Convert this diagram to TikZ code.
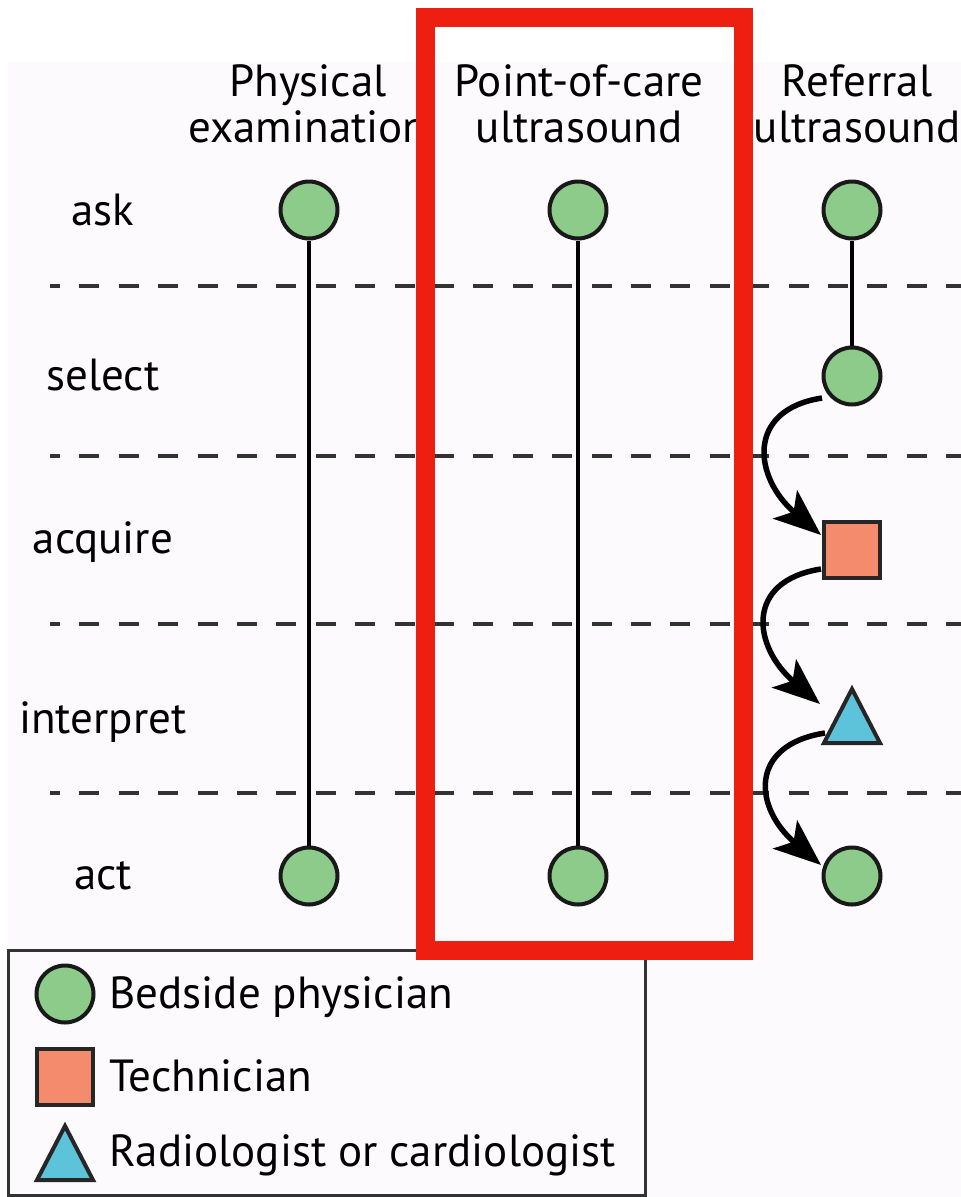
\documentclass[tikz,border=0pt]{standalone}
\usepackage{fontspec}
\setmainfont{PT Sans}
\usetikzlibrary{arrows.meta,calc,shapes.geometric}
\definecolor{bgc}{HTML}{FDFAFD}
\definecolor{grn}{HTML}{8DCB8B}
\definecolor{org}{HTML}{F58B6D}
\definecolor{blu}{HTML}{5CC3DA}
\definecolor{redb}{HTML}{EE1F10}
\definecolor{dgray}{HTML}{333333}
\tikzset{
  flowtip/.tip={Stealth[length=47pt,width=37pt,inset=11pt]}
}
\begin{document}
\begin{tikzpicture}[x=1pt,y=-1pt,
  phys/.style={circle,draw=black!90,line width=4pt,fill=grn,minimum size=57pt,inner sep=0pt},
  tech/.style={rectangle,draw=black!85,line width=4pt,fill=org,minimum size=56pt,inner sep=0pt},
  radi/.style={isosceles triangle,isosceles triangle stretches,shape border rotate=90,draw=black!85,line width=4pt,fill=blu,minimum height=54pt,minimum width=56pt,inner sep=0pt,anchor=lower side},
  rowlab/.style={font=\fontsize{45}{46}\selectfont},
  head/.style={font=\fontsize{45}{46}\selectfont,align=center},
  legtxt/.style={font=\fontsize{45}{46}\selectfont,anchor=west},
  sep/.style={dgray,line width=3.8pt,dash pattern=on 20pt off 19.4pt,dash phase=10pt},
  vline/.style={line width=4.6pt,black},
  flow/.style={line width=5.5pt,arrows={-flowtip}}
]
\useasboundingbox (0,0) rectangle (961,1197);
\fill[white] (0,0) rectangle (961,1197);
\fill[bgc] (8,62) rectangle (961,1197);

% headers
\node[head] (h1) at (308,104) {Physical\\examination};
\node[head] (h2) at (579,104) {Point-of-care\\ultrasound};
\node[head] (h3) at (857,104) {Referral\\ultrasound};

% row labels
\node[rowlab] (l1) at (103,210) {ask};
\node[rowlab] (l2) at (103,375) {select};
\node[rowlab] (l3) at (103,542) {acquire};
\node[rowlab] (l4) at (103,722) {interpret};
\node[rowlab] (l5) at (103,876) {act};

% separators
\coordinate (s1a) at (50,286); \coordinate (s1b) at (961,286);
\coordinate (s2a) at (50,456); \coordinate (s2b) at (961,456);
\coordinate (s3a) at (50,624); \coordinate (s3b) at (961,624);
\coordinate (s4a) at (50,793); \coordinate (s4b) at (961,793);
\draw[sep] (s1a) -- (s1b);
\draw[sep] (s2a) -- (s2b);
\draw[sep] (s3a) -- (s3b);
\draw[sep] (s4a) -- (s4b);

% column 1
\node[phys] (pa) at (309,210) {};
\node[phys] (pe) at (309,876) {};
\draw[vline] (pa) -- (pe);
% column 2
\node[phys] (ua) at (578,210) {};
\node[phys] (ue) at (578,876) {};
\draw[vline] (ua) -- (ue);
% column 3
\node[phys] (ra) at (852,210) {};
\node[phys] (rs) at (852,376) {};
\node[tech] (rq) at (852,550) {};
\node[radi] (ri) at (852,745) {};
\node[phys] (re) at (852,876) {};
\draw[vline] (ra) -- (rs);
\draw[flow] ($(rs.center)+(-30,22)$) .. controls +(-77,12) and +(-67,-57) .. ($(rq.north west)+(-1,15)$);
\draw[flow] ($(rq.south west)+(-1,-11)$) .. controls +(-77,12) and +(-67,-57) .. ($(ri.lower side)+(-32,-41)$);
\draw[flow] ($(ri.lower side)+(-27,-12)$) .. controls +(-77,12) and +(-67,-57) .. ($(re.center)+(-31,-11)$);

% legend
\draw[dgray,line width=3pt,fill=bgc] (8,950) rectangle (645,1195);
\node[phys] (k1) at (65,994) {};
\node[tech] (k2) at (65,1077) {};
\node[radi] (k3) at (65,1182) {};
\node[legtxt] (t1) at (106,997) {Bedside physician};
\node[legtxt] (t2) at (106,1076) {Technician};
\node[legtxt] (t3) at (106,1155) {Radiologist or cardiologist};

% highlight
\draw[redb,line width=19pt] (425,17.5) rectangle (743.5,950);
\end{tikzpicture}
\end{document}
